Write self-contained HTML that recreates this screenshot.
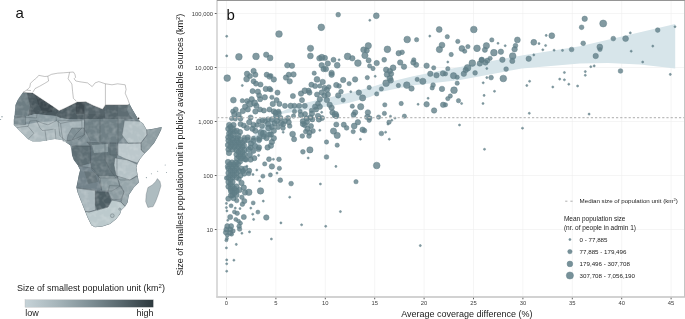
<!DOCTYPE html>
<html><head><meta charset="utf-8"><style>
html,body{margin:0;padding:0;background:#fff;}
body{width:685px;height:319px;overflow:hidden;}
svg{display:block;font-family:"Liberation Sans",sans-serif;will-change:transform;filter:blur(0.25px);}
.tk{font-size:5.85px;fill:#3c3c3c;}
.lg{font-size:6.2px;fill:#222;}
.lg2{font-size:6.52px;fill:#222;}
.sup{font-size:4px;}
.ttl{font-size:9px;fill:#1a1a1a;}
.pl{font-size:15px;fill:#111;}
</style></head><body>
<svg width="685" height="319" viewBox="0 0 685 319">
<defs><clipPath id="ssaclip"><polygon points="23.0,92.3 32.8,93.1 39.5,97.6 46.3,102.1 53.1,106.6 59.1,110.8 65.1,108.1 71.1,105.1 77.1,102.1 80.0,102.1 85.6,101.7 93.2,105.5 102.6,109.2 105.4,104.9 128.0,104.9 129.3,103.6 131.8,108.3 134.6,113.0 137.4,117.7 140.2,121.5 142.9,123.2 146.7,129.7 153.3,128.8 161.7,126.9 161.2,129.7 158.0,136.3 154.2,142.9 149.5,148.6 144.8,153.3 140.1,158.9 137.3,164.5 136.4,167.5 137.6,175.0 138.9,182.6 133.9,187.6 128.9,195.1 127.6,202.6 125.1,206.4 121.3,210.2 120.1,213.9 116.3,218.9 110.1,224.0 102.5,226.5 95.0,227.2 91.3,225.2 90.1,222.7 87.6,217.7 85.1,211.4 82.6,205.2 80.1,198.9 77.6,192.6 76.3,187.6 77.6,181.3 78.8,175.1 80.1,170.1 77.6,165.0 73.8,160.0 72.0,155.0 71.5,150.0 70.2,145.2 66.5,142.7 62.7,140.2 55.2,138.9 47.6,140.2 40.1,141.4 32.6,141.4 27.6,138.9 23.8,135.1 20.1,131.4 16.3,127.6 13.8,125.1 13.8,120.1 14.5,115.0 15.0,110.0 15.5,105.0 17.6,100.0 20.1,96.3"/></clipPath>
<filter id="mottle" x="0" y="0" width="1" height="1"><feTurbulence type="fractalNoise" baseFrequency="0.18" numOctaves="2" seed="7"/><feColorMatrix type="matrix" values="0 0 0 0 1  0 0 0 0 1  0 0 0 0 1  2.2 0 0 0 -0.95"/></filter>
<linearGradient id="cb" x1="0" x2="1" y1="0" y2="0"><stop offset="0" stop-color="#c6d3d8"/><stop offset="0.25" stop-color="#a6b5ba"/><stop offset="0.5" stop-color="#7f9096"/><stop offset="0.75" stop-color="#58676d"/><stop offset="1" stop-color="#2e3a3f"/></linearGradient>
</defs>
<text x="15.5" y="17.6" class="pl">a</text>
<polygon points="23.0,92.3 32.8,93.1 39.5,97.6 46.3,102.1 53.1,106.6 59.1,110.8 65.1,108.1 71.1,105.1 77.1,102.1 80.0,102.1 85.6,101.7 93.2,105.5 102.6,109.2 105.4,104.9 128.0,104.9 129.3,103.6 131.8,108.3 134.6,113.0 137.4,117.7 140.2,121.5 142.9,123.2 146.7,129.7 153.3,128.8 161.7,126.9 161.2,129.7 158.0,136.3 154.2,142.9 149.5,148.6 144.8,153.3 140.1,158.9 137.3,164.5 136.4,167.5 137.6,175.0 138.9,182.6 133.9,187.6 128.9,195.1 127.6,202.6 125.1,206.4 121.3,210.2 120.1,213.9 116.3,218.9 110.1,224.0 102.5,226.5 95.0,227.2 91.3,225.2 90.1,222.7 87.6,217.7 85.1,211.4 82.6,205.2 80.1,198.9 77.6,192.6 76.3,187.6 77.6,181.3 78.8,175.1 80.1,170.1 77.6,165.0 73.8,160.0 72.0,155.0 71.5,150.0 70.2,145.2 66.5,142.7 62.7,140.2 55.2,138.9 47.6,140.2 40.1,141.4 32.6,141.4 27.6,138.9 23.8,135.1 20.1,131.4 16.3,127.6 13.8,125.1 13.8,120.1 14.5,115.0 15.0,110.0 15.5,105.0 17.6,100.0 20.1,96.3" fill="#83939a"/><g clip-path="url(#ssaclip)"><polygon points="22.6,93.0 27.0,93.0 30.0,105.0 28.0,116.0 15.0,116.0 15.0,105.0 17.6,100.0 20.1,96.3" fill="#6d7d83"/><polygon points="27.0,93.0 32.8,93.1 39.5,97.6 46.3,102.1 53.1,106.6 59.1,110.8 56.0,116.0 45.0,115.0 35.0,114.0 28.0,116.0 30.0,105.0" fill="#4a585e"/><polygon points="36.0,96.0 46.3,102.1 53.1,106.6 52.0,112.0 43.0,113.0 38.0,104.0" fill="#3d494f"/><polygon points="59.1,110.8 65.1,108.1 71.1,105.1 77.1,102.1 80.0,102.1 85.6,101.7 93.2,105.5 102.6,109.2 105.4,104.9 105.4,118.8 100.0,119.0 85.0,119.5 70.0,119.5 60.0,118.0 56.0,116.0" fill="#4f5d63"/><polygon points="75.9,102.8 84.5,102.0 84.5,114.0 76.0,114.0" fill="#3e4a50"/><polygon points="84.5,102.0 85.6,101.7 93.2,105.5 102.6,109.2 105.4,104.9 105.4,114.0 84.5,114.0" fill="#56646a"/><polygon points="105.4,104.9 128.0,104.9 129.3,103.6 131.8,108.3 134.6,113.0 137.0,117.0 132.0,119.0 124.0,120.0 105.4,119.0" fill="#5e6d73"/><polygon points="105.4,104.9 118.0,104.9 118.0,119.0 105.4,119.0" fill="#56656b"/><polygon points="129.3,103.6 131.8,108.3 134.6,113.0 137.4,117.7 140.2,121.5 136.0,121.0 130.0,116.0 127.0,110.0" fill="#738389"/><polygon points="14.5,115.0 28.0,116.0 35.0,114.0 45.0,115.0 56.0,116.0 60.0,118.0 70.0,119.5 85.0,119.5 100.0,119.0 105.4,119.0 105.4,122.0 60.0,123.0 14.0,122.0" fill="#8b9ba1"/><polygon points="13.8,116.0 25.5,116.0 25.5,124.5 13.8,125.0" fill="#7d8d93"/><polygon points="14.0,124.0 25.0,124.5 40.0,122.0 58.0,121.0 72.0,124.0 75.0,130.0 72.0,140.0 66.5,142.7 62.7,140.2 55.2,138.9 47.6,140.2 40.1,141.4 32.6,141.4 27.6,138.9 23.8,135.1 20.1,131.4 16.3,127.6 13.8,125.1" fill="#adbabe"/><polygon points="58.0,121.0 84.5,120.0 84.0,135.0 72.0,140.0 66.0,141.0 60.0,136.0" fill="#a5b3b8"/><polygon points="84.5,119.0 124.4,119.0 124.0,137.0 118.0,143.0 100.0,142.0 86.0,140.0" fill="#708086"/><polygon points="124.4,120.7 136.0,121.0 140.2,121.5 142.9,123.2 146.7,129.7 147.0,135.0 141.0,143.0 128.0,143.2 122.0,135.0" fill="#b3c0c4"/><polygon points="146.7,129.7 153.3,128.8 161.7,126.9 161.2,129.7 158.0,136.3 154.2,142.9 149.5,148.6 144.8,153.3 141.3,150.0 141.0,143.0 147.0,135.0" fill="#8e9da2"/><polygon points="117.0,143.2 128.0,143.2 141.0,143.0 141.3,150.0 144.8,153.3 140.1,158.9 137.3,163.0 128.0,160.0 117.0,155.0" fill="#bcc8cc"/><polygon points="110.0,143.0 118.0,143.0 118.0,155.0 110.0,155.0" fill="#7d8d93"/><polygon points="68.0,135.0 72.0,128.0 84.0,128.0 90.0,140.0 90.0,146.0 79.0,146.0 72.0,145.0 70.2,145.2 66.5,142.7" fill="#7f8f95"/><polygon points="72.0,146.0 90.6,146.0 90.6,163.0 80.0,166.0 77.6,165.0 73.8,160.0 72.0,155.0 71.5,150.0" fill="#5e6e74"/><polygon points="86.8,142.0 116.0,143.0 117.0,160.0 116.9,178.0 100.0,178.0 92.0,170.0 90.6,163.0 90.6,146.0" fill="#64747a"/><polygon points="92.0,145.0 108.0,144.0 108.0,152.0 94.0,153.0" fill="#8a9a9f"/><polygon points="115.0,158.0 128.0,160.0 137.3,164.5 136.4,167.5 137.6,175.0 130.0,180.0 120.0,180.0 116.0,175.0 114.0,165.0" fill="#b6c3c7"/><polygon points="78.0,166.0 92.0,168.0 100.0,178.0 101.8,190.0 97.0,191.0 77.0,188.0 76.3,187.6 77.6,181.3 78.8,175.1 80.1,170.1" fill="#72828a"/><polygon points="84.0,171.0 95.0,172.0 98.0,182.0 88.0,184.0" fill="#65747a"/><polygon points="98.0,176.0 117.0,176.0 120.0,186.0 112.0,191.0 101.8,191.0" fill="#8a9a9f"/><polygon points="117.0,176.0 130.0,180.0 137.6,176.0 138.9,182.6 133.9,187.6 128.9,195.1 127.6,202.6 125.1,206.4 121.0,202.0 124.0,192.0 120.0,186.0" fill="#98a7ac"/><polygon points="109.5,185.6 121.0,186.0 124.0,192.0 121.0,199.0 112.0,200.0 108.0,192.0" fill="#8c9ba0"/><polygon points="77.0,188.0 95.4,190.0 95.4,210.0 89.0,212.0 85.1,211.4 82.6,205.2 80.1,198.9 77.6,192.6" fill="#aab8bd"/><polygon points="95.4,191.3 108.0,192.0 111.4,200.0 108.0,207.0 97.0,210.1 95.4,205.0" fill="#4e5e64"/><polygon points="89.0,212.0 97.0,210.1 108.0,207.0 112.0,200.0 121.0,202.0 125.1,206.4 121.3,210.2 120.1,213.9 116.3,218.9 110.1,224.0 102.5,226.5 95.0,227.2 91.3,225.2 90.1,222.7 87.6,217.7 85.1,211.4" fill="#bccacd"/><polygon points="13.8,116.0 25.5,116.0 25.5,124.5 13.8,125.0" fill="none" stroke="#4a565c" stroke-width="0.35"/><polygon points="58.0,121.0 84.5,120.0 84.0,135.0 72.0,140.0 66.0,141.0 60.0,136.0" fill="none" stroke="#4a565c" stroke-width="0.35"/><polygon points="124.4,120.7 136.0,121.0 140.2,121.5 142.9,123.2 146.7,129.7 147.0,135.0 141.0,143.0 128.0,143.2 122.0,135.0" fill="none" stroke="#4a565c" stroke-width="0.35"/><polygon points="146.7,129.7 153.3,128.8 161.7,126.9 161.2,129.7 158.0,136.3 154.2,142.9 149.5,148.6 144.8,153.3 141.3,150.0 141.0,143.0 147.0,135.0" fill="none" stroke="#4a565c" stroke-width="0.35"/><polygon points="117.0,143.2 128.0,143.2 141.0,143.0 141.3,150.0 144.8,153.3 140.1,158.9 137.3,163.0 128.0,160.0 117.0,155.0" fill="none" stroke="#4a565c" stroke-width="0.35"/><polygon points="110.0,143.0 118.0,143.0 118.0,155.0 110.0,155.0" fill="none" stroke="#4a565c" stroke-width="0.35"/><polygon points="68.0,135.0 72.0,128.0 84.0,128.0 90.0,140.0 90.0,146.0 79.0,146.0 72.0,145.0 70.2,145.2 66.5,142.7" fill="none" stroke="#4a565c" stroke-width="0.35"/><polygon points="72.0,146.0 90.6,146.0 90.6,163.0 80.0,166.0 77.6,165.0 73.8,160.0 72.0,155.0 71.5,150.0" fill="none" stroke="#4a565c" stroke-width="0.35"/><polygon points="86.8,142.0 116.0,143.0 117.0,160.0 116.9,178.0 100.0,178.0 92.0,170.0 90.6,163.0 90.6,146.0" fill="none" stroke="#4a565c" stroke-width="0.35"/><polygon points="115.0,158.0 128.0,160.0 137.3,164.5 136.4,167.5 137.6,175.0 130.0,180.0 120.0,180.0 116.0,175.0 114.0,165.0" fill="none" stroke="#4a565c" stroke-width="0.35"/><polygon points="78.0,166.0 92.0,168.0 100.0,178.0 101.8,190.0 97.0,191.0 77.0,188.0 76.3,187.6 77.6,181.3 78.8,175.1 80.1,170.1" fill="none" stroke="#4a565c" stroke-width="0.35"/><polygon points="98.0,176.0 117.0,176.0 120.0,186.0 112.0,191.0 101.8,191.0" fill="none" stroke="#4a565c" stroke-width="0.35"/><polygon points="117.0,176.0 130.0,180.0 137.6,176.0 138.9,182.6 133.9,187.6 128.9,195.1 127.6,202.6 125.1,206.4 121.0,202.0 124.0,192.0 120.0,186.0" fill="none" stroke="#4a565c" stroke-width="0.35"/><polygon points="109.5,185.6 121.0,186.0 124.0,192.0 121.0,199.0 112.0,200.0 108.0,192.0" fill="none" stroke="#4a565c" stroke-width="0.35"/><polygon points="77.0,188.0 95.4,190.0 95.4,210.0 89.0,212.0 85.1,211.4 82.6,205.2 80.1,198.9 77.6,192.6" fill="none" stroke="#4a565c" stroke-width="0.35"/><polygon points="95.4,191.3 108.0,192.0 111.4,200.0 108.0,207.0 97.0,210.1 95.4,205.0" fill="none" stroke="#4a565c" stroke-width="0.35"/><polygon points="89.0,212.0 97.0,210.1 108.0,207.0 112.0,200.0 121.0,202.0 125.1,206.4 121.3,210.2 120.1,213.9 116.3,218.9 110.1,224.0 102.5,226.5 95.0,227.2 91.3,225.2 90.1,222.7 87.6,217.7 85.1,211.4" fill="none" stroke="#4a565c" stroke-width="0.35"/><rect x="0" y="60" width="170" height="175" filter="url(#mottle)" opacity="0.22"/></g><polyline points="15.0,117.8 22.0,117.0 30.0,117.5 36.6,118.0" fill="none" stroke="#4a565c" stroke-width="0.35"/><polyline points="16.9,127.7 22.0,126.8 28.0,126.3 33.9,133.4 28.2,139.0" fill="none" stroke="#4a565c" stroke-width="0.35"/><polyline points="28.0,126.3 30.0,121.0 36.6,120.7" fill="none" stroke="#4a565c" stroke-width="0.35"/><polyline points="36.6,120.7 42.0,123.0 48.0,124.9 56.4,120.7" fill="none" stroke="#4a565c" stroke-width="0.35"/><polyline points="36.6,120.7 40.0,128.0 42.3,130.5 48.0,130.0 53.6,129.1" fill="none" stroke="#4a565c" stroke-width="0.35"/><polyline points="45.0,130.5 46.5,141.0" fill="none" stroke="#4a565c" stroke-width="0.35"/><polyline points="55.0,129.0 56.0,139.5" fill="none" stroke="#4a565c" stroke-width="0.35"/><polyline points="60.6,123.4 61.5,132.0 63.4,141.8" fill="none" stroke="#4a565c" stroke-width="0.35"/><polyline points="56.4,120.7 60.6,123.4 70.0,121.5 81.8,120.7" fill="none" stroke="#4a565c" stroke-width="0.35"/><polyline points="81.8,120.7 82.0,128.0 76.0,134.0 72.0,140.0" fill="none" stroke="#4a565c" stroke-width="0.35"/><polyline points="84.5,119.0 84.5,135.0 78.0,140.0" fill="none" stroke="#4a565c" stroke-width="0.35"/><polyline points="100.0,119.0 100.0,142.0" fill="none" stroke="#4a565c" stroke-width="0.35"/><polyline points="118.0,119.0 118.0,143.0" fill="none" stroke="#4a565c" stroke-width="0.35"/><polyline points="90.0,146.0 90.6,163.0" fill="none" stroke="#4a565c" stroke-width="0.35"/><polyline points="105.0,143.0 105.0,160.0 110.0,170.0 116.0,178.0" fill="none" stroke="#4a565c" stroke-width="0.35"/><polyline points="59.1,110.8 56.0,116.0 56.4,120.7" fill="none" stroke="#4a565c" stroke-width="0.35"/><polyline points="84.5,102.0 84.5,119.0" fill="none" stroke="#4a565c" stroke-width="0.35"/><polyline points="36.6,118.0 37.0,114.0 30.0,105.0 27.0,93.0" fill="none" stroke="#4a565c" stroke-width="0.35"/><polygon points="157.4,178.6 160.0,181.6 160.9,185.9 158.3,194.5 155.7,201.4 153.1,206.6 147.9,207.4 145.7,201.4 146.2,194.5 147.9,187.6 152.2,185.0 155.7,181.6" fill="#aebcc0" stroke="#4a565c" stroke-width="0.3"/><circle cx="138.6" cy="118.2" r="0.8" fill="#222"/><circle cx="112.3" cy="215.7" r="1.9" fill="#b3c1c5" stroke="#4a565c" stroke-width="0.35"/><circle cx="119.8" cy="209.1" r="1.1" fill="#b3c1c5" stroke="#4a565c" stroke-width="0.35"/><circle cx="2" cy="116.8" r="0.7" fill="#8a9aa0"/><circle cx="0.6" cy="119.5" r="0.6" fill="#8a9aa0"/><circle cx="146.4" cy="177.6" r="0.6" fill="#8a9aa0"/><circle cx="151.4" cy="173.8" r="0.5" fill="#8a9aa0"/><circle cx="157.7" cy="171.3" r="0.5" fill="#8a9aa0"/><circle cx="165.2" cy="165" r="0.5" fill="#8a9aa0"/><circle cx="166.5" cy="172.5" r="0.5" fill="#8a9aa0"/><polygon points="23.0,92.3 26.8,90.1 29.8,87.1 30.5,83.3 33.5,80.3 36.5,78.0 38.8,75.3 41.1,75.8 44.8,76.5 47.8,76.2 51.6,74.3 57.6,73.2 63.6,72.8 69.6,72.3 73.4,72.0 74.9,74.3 75.6,77.3 74.1,78.8 75.9,81.0 80.0,81.8 87.5,82.9 92.2,86.6 95.1,82.9 98.8,81.6 105.4,83.8 112.0,84.8 117.6,83.8 125.2,84.8 126.1,89.5 125.2,93.2 128.0,99.8 129.3,103.6 128.0,104.9 105.4,104.9 102.6,109.2 93.2,105.5 85.6,101.7 80.0,102.1 77.1,102.1 71.1,105.1 65.1,108.1 59.1,110.8 53.1,106.6 46.3,102.1 39.5,97.6 32.8,93.1" fill="#fff" stroke="#555" stroke-width="0.35"/><polyline points="47.8,76.2 48.6,81.0 44.8,83.3 39.5,86.3 35.0,88.6 32.8,92.3" fill="none" stroke="#555" stroke-width="0.35"/><polyline points="69.6,72.3 68.1,78.8 71.9,84.0 72.6,91.6 73.4,98.3 76.4,101.3" fill="none" stroke="#555" stroke-width="0.35"/><polyline points="105.4,83.8 105.4,104.9" fill="none" stroke="#555" stroke-width="0.35"/><polyline points="26.8,90.1 31.0,90.6" fill="none" stroke="#555" stroke-width="0.35"/>
<text x="17" y="291.4" class="ttl">Size of smallest population unit (km<tspan font-size="6" dy="-3.2">2</tspan><tspan dy="3.2">)</tspan></text>
<rect x="25" y="299.8" width="128.3" height="7.4" fill="url(#cb)" stroke="#aaa" stroke-width="0.3"/>
<text x="25.3" y="316.3" class="ttl">low</text>
<text x="153.4" y="316.3" class="ttl" text-anchor="end">high</text>
<line x1="226.5" y1="0" x2="226.5" y2="296" stroke="#efefef" stroke-width="0.6"/><line x1="275.9" y1="0" x2="275.9" y2="296" stroke="#efefef" stroke-width="0.6"/><line x1="325.3" y1="0" x2="325.3" y2="296" stroke="#efefef" stroke-width="0.6"/><line x1="374.7" y1="0" x2="374.7" y2="296" stroke="#efefef" stroke-width="0.6"/><line x1="424.1" y1="0" x2="424.1" y2="296" stroke="#efefef" stroke-width="0.6"/><line x1="473.5" y1="0" x2="473.5" y2="296" stroke="#efefef" stroke-width="0.6"/><line x1="522.9" y1="0" x2="522.9" y2="296" stroke="#efefef" stroke-width="0.6"/><line x1="572.3" y1="0" x2="572.3" y2="296" stroke="#efefef" stroke-width="0.6"/><line x1="621.7" y1="0" x2="621.7" y2="296" stroke="#efefef" stroke-width="0.6"/><line x1="671.1" y1="0" x2="671.1" y2="296" stroke="#efefef" stroke-width="0.6"/><line x1="217" y1="229.5" x2="684" y2="229.5" stroke="#efefef" stroke-width="0.6"/><line x1="217" y1="175.5" x2="684" y2="175.5" stroke="#efefef" stroke-width="0.6"/><line x1="217" y1="121.5" x2="684" y2="121.5" stroke="#efefef" stroke-width="0.6"/><line x1="217" y1="67.5" x2="684" y2="67.5" stroke="#efefef" stroke-width="0.6"/><line x1="217" y1="13.5" x2="684" y2="13.5" stroke="#efefef" stroke-width="0.6"/><polygon points="245.0,150.0 252.0,138.0 260.0,128.0 268.0,120.0 276.0,114.0 292.0,107.0 309.0,102.0 340.0,95.0 370.0,87.5 381.0,84.0 412.0,76.5 442.6,70.2 460.0,67.0 521.7,55.4 580.0,46.2 624.0,36.0 675.2,24.0 675.2,68.6 640.0,64.5 608.0,63.0 580.0,63.6 521.7,68.5 460.0,80.0 442.6,82.0 412.0,85.5 381.3,91.7 370.0,97.0 348.4,103.0 317.0,108.2 282.5,113.7 269.0,133.0 258.0,146.0 250.0,160.0" fill="#d7e5ea"/>
<g fill="#5f7e87" fill-opacity="0.78" stroke="#5f7e87" stroke-opacity="0.78" stroke-width="0.6">
<circle cx="584.7" cy="18.8" r="2.73"/><circle cx="581.6" cy="27.3" r="2.37"/><circle cx="603.2" cy="23.5" r="3.51"/><circle cx="571.6" cy="49.5" r="2.37"/><circle cx="583.2" cy="43.3" r="2.37"/><circle cx="599.8" cy="47.0" r="2.94"/><circle cx="600.0" cy="49.5" r="2.12"/><circle cx="595.7" cy="56.0" r="2.73"/><circle cx="613.3" cy="38.6" r="2.37"/><circle cx="625.6" cy="38.6" r="2.94"/><circle cx="630.3" cy="32.9" r="1.05"/><circle cx="631.2" cy="51.2" r="1.05"/><circle cx="652.8" cy="46.1" r="1.05"/><circle cx="657.7" cy="30.1" r="2.37"/><circle cx="675.0" cy="26.7" r="1.05"/><circle cx="447.3" cy="36.7" r="2.17"/><circle cx="457.8" cy="41.4" r="2.17"/><circle cx="451.2" cy="54.5" r="2.17"/><circle cx="461.9" cy="48.5" r="2.94"/><circle cx="464.7" cy="51.2" r="2.17"/><circle cx="467.9" cy="46.6" r="2.17"/><circle cx="473.8" cy="29.5" r="3.35"/><circle cx="477.0" cy="48.3" r="3.35"/><circle cx="486.4" cy="45.7" r="3.15"/><circle cx="484.9" cy="49.8" r="2.58"/><circle cx="491.8" cy="39.9" r="2.17"/><circle cx="493.9" cy="52.7" r="3.35"/><circle cx="498.0" cy="43.3" r="1.05"/><circle cx="500.9" cy="51.7" r="2.73"/><circle cx="505.2" cy="45.7" r="1.05"/><circle cx="517.4" cy="39.9" r="2.94"/><circle cx="515.5" cy="45.7" r="2.37"/><circle cx="514.6" cy="49.3" r="2.73"/><circle cx="512.7" cy="56.0" r="3.35"/><circle cx="481.7" cy="59.8" r="2.73"/><circle cx="490.1" cy="58.3" r="2.17"/><circle cx="502.4" cy="59.8" r="2.73"/><circle cx="528.7" cy="58.7" r="2.73"/><circle cx="533.8" cy="42.3" r="2.94"/><circle cx="539.0" cy="43.6" r="1.05"/><circle cx="546.2" cy="35.4" r="1.05"/><circle cx="551.8" cy="35.7" r="2.94"/><circle cx="545.6" cy="45.5" r="1.05"/><circle cx="542.8" cy="49.8" r="1.05"/><circle cx="554.1" cy="50.2" r="1.05"/><circle cx="562.5" cy="50.4" r="1.05"/><circle cx="533.8" cy="54.9" r="1.05"/><circle cx="338.2" cy="14.7" r="2.37"/><circle cx="369.8" cy="20.3" r="1.05"/><circle cx="376.3" cy="15.8" r="2.94"/><circle cx="368.3" cy="45.7" r="3.15"/><circle cx="363.6" cy="49.8" r="2.94"/><circle cx="366.8" cy="50.4" r="2.58"/><circle cx="364.9" cy="55.5" r="3.15"/><circle cx="347.6" cy="56.4" r="3.35"/><circle cx="352.3" cy="58.3" r="2.73"/><circle cx="333.5" cy="59.8" r="2.53"/><circle cx="387.4" cy="49.3" r="3.35"/><circle cx="398.7" cy="53.2" r="2.73"/><circle cx="402.1" cy="52.3" r="2.37"/><circle cx="407.2" cy="39.5" r="3.35"/><circle cx="416.6" cy="39.7" r="2.17"/><circle cx="429.8" cy="36.1" r="1.05"/><circle cx="439.2" cy="29.5" r="2.94"/><circle cx="442.0" cy="45.1" r="2.94"/><circle cx="439.4" cy="49.5" r="3.15"/><circle cx="384.2" cy="59.8" r="2.43"/><circle cx="413.8" cy="59.8" r="2.17"/><circle cx="339.1" cy="59.8" r="1.05"/><circle cx="226.7" cy="36.3" r="1.05"/><circle cx="226.7" cy="55.9" r="1.05"/><circle cx="238.9" cy="56.8" r="3.35"/><circle cx="256.0" cy="56.4" r="3.35"/><circle cx="266.2" cy="54.7" r="2.73"/><circle cx="270.1" cy="57.9" r="2.94"/><circle cx="279.0" cy="34.0" r="3.35"/><circle cx="321.3" cy="27.3" r="3.35"/><circle cx="310.5" cy="48.3" r="3.15"/><circle cx="310.4" cy="55.9" r="2.94"/><circle cx="319.4" cy="58.3" r="2.73"/><circle cx="321.8" cy="57.4" r="3.15"/><circle cx="325.0" cy="57.9" r="2.58"/><circle cx="642.7" cy="62.0" r="1.05"/><circle cx="590.8" cy="66.7" r="1.05"/><circle cx="594.2" cy="65.9" r="1.05"/><circle cx="585.3" cy="71.6" r="1.05"/><circle cx="585.3" cy="75.3" r="1.05"/><circle cx="620.5" cy="71.0" r="2.37"/><circle cx="670.3" cy="74.4" r="1.05"/><circle cx="568.8" cy="84.2" r="1.05"/><circle cx="577.6" cy="86.0" r="1.05"/><circle cx="447.8" cy="62.0" r="1.05"/><circle cx="447.8" cy="68.7" r="2.17"/><circle cx="445.5" cy="73.8" r="2.17"/><circle cx="467.6" cy="67.8" r="3.35"/><circle cx="465.7" cy="70.0" r="2.73"/><circle cx="472.3" cy="63.1" r="3.35"/><circle cx="479.8" cy="63.5" r="2.73"/><circle cx="481.7" cy="60.1" r="2.58"/><circle cx="485.4" cy="62.5" r="2.73"/><circle cx="487.3" cy="60.6" r="2.58"/><circle cx="512.3" cy="61.0" r="2.58"/><circle cx="463.8" cy="73.8" r="2.73"/><circle cx="453.5" cy="75.7" r="3.15"/><circle cx="457.2" cy="77.2" r="2.17"/><circle cx="475.1" cy="72.9" r="2.37"/><circle cx="486.8" cy="68.5" r="1.05"/><circle cx="506.1" cy="69.1" r="2.37"/><circle cx="486.8" cy="77.6" r="1.05"/><circle cx="491.1" cy="77.6" r="2.37"/><circle cx="503.3" cy="78.5" r="3.35"/><circle cx="457.2" cy="83.2" r="2.17"/><circle cx="454.0" cy="90.2" r="3.35"/><circle cx="483.2" cy="82.8" r="1.05"/><circle cx="494.5" cy="91.3" r="1.05"/><circle cx="450.3" cy="96.0" r="2.17"/><circle cx="447.8" cy="98.6" r="2.17"/><circle cx="445.5" cy="104.8" r="2.17"/><circle cx="458.5" cy="100.7" r="2.17"/><circle cx="461.6" cy="103.5" r="1.05"/><circle cx="484.1" cy="95.4" r="1.05"/><circle cx="483.0" cy="103.5" r="1.05"/><circle cx="529.6" cy="81.3" r="1.05"/><circle cx="526.8" cy="85.5" r="1.05"/><circle cx="529.3" cy="113.3" r="1.05"/><circle cx="559.7" cy="79.1" r="1.05"/><circle cx="552.8" cy="87.0" r="1.05"/><circle cx="564.4" cy="72.5" r="1.05"/><circle cx="564.4" cy="79.8" r="1.05"/><circle cx="327.8" cy="63.5" r="2.73"/><circle cx="325.9" cy="69.1" r="2.73"/><circle cx="337.2" cy="65.3" r="2.94"/><circle cx="357.9" cy="63.1" r="3.35"/><circle cx="368.6" cy="60.3" r="2.58"/><circle cx="369.6" cy="65.9" r="2.17"/><circle cx="373.0" cy="68.5" r="2.17"/><circle cx="376.7" cy="63.1" r="2.73"/><circle cx="386.1" cy="69.7" r="2.73"/><circle cx="389.9" cy="71.0" r="2.73"/><circle cx="393.1" cy="67.8" r="2.94"/><circle cx="387.1" cy="74.4" r="2.94"/><circle cx="391.2" cy="73.8" r="2.58"/><circle cx="389.9" cy="78.5" r="2.94"/><circle cx="386.1" cy="83.2" r="3.35"/><circle cx="390.8" cy="80.4" r="2.73"/><circle cx="400.2" cy="62.5" r="2.73"/><circle cx="404.0" cy="66.7" r="2.73"/><circle cx="413.4" cy="62.5" r="2.73"/><circle cx="416.2" cy="64.8" r="2.58"/><circle cx="426.6" cy="65.7" r="2.73"/><circle cx="433.7" cy="67.8" r="2.17"/><circle cx="430.3" cy="73.8" r="2.73"/><circle cx="436.5" cy="75.3" r="2.73"/><circle cx="442.9" cy="73.4" r="2.73"/><circle cx="417.2" cy="79.4" r="2.17"/><circle cx="422.8" cy="81.3" r="3.15"/><circle cx="406.8" cy="85.1" r="3.35"/><circle cx="411.5" cy="88.5" r="2.73"/><circle cx="398.4" cy="85.5" r="2.17"/><circle cx="433.1" cy="85.1" r="2.37"/><circle cx="432.2" cy="87.9" r="2.17"/><circle cx="442.0" cy="88.9" r="2.73"/><circle cx="428.1" cy="98.3" r="1.05"/><circle cx="426.6" cy="104.3" r="2.73"/><circle cx="418.1" cy="104.3" r="1.05"/><circle cx="434.1" cy="110.5" r="2.73"/><circle cx="443.1" cy="104.8" r="2.73"/><circle cx="401.2" cy="103.5" r="2.17"/><circle cx="384.8" cy="104.8" r="2.17"/><circle cx="367.9" cy="112.4" r="2.73"/><circle cx="367.3" cy="77.6" r="2.17"/><circle cx="375.2" cy="76.3" r="1.05"/><circle cx="369.2" cy="87.5" r="2.17"/><circle cx="381.4" cy="88.9" r="2.17"/><circle cx="376.7" cy="93.9" r="2.17"/><circle cx="355.1" cy="79.4" r="2.73"/><circle cx="343.2" cy="80.0" r="2.73"/><circle cx="349.1" cy="83.6" r="2.17"/><circle cx="331.6" cy="72.9" r="2.73"/><circle cx="331.6" cy="74.7" r="2.73"/><circle cx="336.3" cy="85.1" r="2.73"/><circle cx="339.1" cy="86.0" r="2.37"/><circle cx="328.8" cy="87.0" r="2.37"/><circle cx="326.9" cy="89.8" r="2.73"/><circle cx="341.0" cy="91.7" r="2.37"/><circle cx="338.2" cy="95.4" r="2.73"/><circle cx="350.8" cy="91.7" r="1.05"/><circle cx="358.9" cy="92.6" r="2.73"/><circle cx="362.6" cy="97.9" r="3.15"/><circle cx="343.2" cy="100.1" r="2.17"/><circle cx="327.8" cy="94.5" r="2.73"/><circle cx="326.9" cy="100.1" r="2.73"/><circle cx="329.7" cy="104.8" r="2.73"/><circle cx="331.6" cy="107.7" r="2.73"/><circle cx="332.5" cy="112.4" r="2.73"/><circle cx="352.3" cy="106.2" r="2.17"/><circle cx="360.7" cy="106.7" r="3.15"/><circle cx="355.1" cy="112.4" r="2.73"/><circle cx="287.3" cy="65.3" r="2.73"/><circle cx="292.0" cy="65.7" r="2.73"/><circle cx="321.7" cy="65.3" r="2.73"/><circle cx="323.6" cy="69.1" r="2.73"/><circle cx="314.2" cy="73.2" r="2.17"/><circle cx="293.5" cy="74.4" r="2.73"/><circle cx="288.8" cy="74.7" r="2.58"/><circle cx="286.0" cy="77.6" r="2.73"/><circle cx="289.7" cy="81.3" r="2.73"/><circle cx="273.8" cy="79.4" r="2.73"/><circle cx="270.9" cy="75.7" r="2.17"/><circle cx="317.0" cy="79.4" r="2.94"/><circle cx="322.7" cy="81.9" r="2.73"/><circle cx="311.4" cy="84.7" r="2.58"/><circle cx="315.1" cy="86.0" r="2.58"/><circle cx="319.8" cy="86.0" r="2.17"/><circle cx="324.5" cy="87.9" r="2.58"/><circle cx="304.8" cy="90.7" r="2.94"/><circle cx="308.6" cy="90.7" r="2.58"/><circle cx="309.5" cy="92.6" r="2.58"/><circle cx="301.0" cy="93.6" r="2.73"/><circle cx="317.0" cy="94.5" r="2.58"/><circle cx="321.7" cy="92.6" r="2.73"/><circle cx="324.5" cy="95.4" r="2.73"/><circle cx="319.8" cy="99.2" r="2.73"/><circle cx="270.9" cy="89.8" r="2.17"/><circle cx="277.5" cy="92.6" r="2.58"/><circle cx="292.9" cy="96.0" r="2.58"/><circle cx="302.0" cy="100.1" r="2.58"/><circle cx="271.9" cy="97.3" r="2.17"/><circle cx="276.6" cy="100.1" r="2.58"/><circle cx="279.4" cy="103.9" r="2.58"/><circle cx="272.8" cy="103.9" r="2.73"/><circle cx="285.0" cy="105.8" r="2.58"/><circle cx="290.7" cy="105.8" r="2.73"/><circle cx="294.5" cy="105.8" r="2.58"/><circle cx="299.2" cy="105.8" r="2.58"/><circle cx="304.8" cy="105.8" r="2.58"/><circle cx="315.1" cy="106.7" r="2.73"/><circle cx="319.8" cy="106.7" r="2.73"/><circle cx="318.0" cy="103.5" r="2.58"/><circle cx="311.4" cy="110.5" r="2.17"/><circle cx="316.1" cy="109.5" r="2.58"/><circle cx="300.1" cy="111.4" r="2.17"/><circle cx="294.5" cy="111.4" r="2.17"/><circle cx="273.8" cy="111.4" r="2.73"/><circle cx="278.5" cy="111.4" r="2.37"/><circle cx="227.2" cy="78.1" r="3.35"/><circle cx="247.0" cy="73.8" r="2.73"/><circle cx="253.6" cy="71.0" r="2.73"/><circle cx="255.4" cy="74.7" r="2.58"/><circle cx="246.6" cy="79.1" r="2.94"/><circle cx="250.0" cy="76.0" r="2.58"/><circle cx="242.3" cy="85.5" r="1.05"/><circle cx="253.6" cy="81.3" r="2.58"/><circle cx="256.0" cy="83.6" r="2.58"/><circle cx="260.5" cy="84.5" r="2.58"/><circle cx="266.7" cy="74.7" r="2.58"/><circle cx="269.5" cy="76.6" r="2.73"/><circle cx="265.8" cy="88.9" r="2.73"/><circle cx="269.5" cy="88.9" r="2.58"/><circle cx="252.6" cy="91.1" r="2.58"/><circle cx="257.9" cy="91.7" r="2.73"/><circle cx="259.2" cy="95.4" r="2.58"/><circle cx="264.8" cy="97.3" r="2.73"/><circle cx="233.4" cy="100.1" r="2.94"/><circle cx="242.3" cy="100.7" r="2.17"/><circle cx="247.0" cy="101.1" r="2.58"/><circle cx="251.7" cy="99.2" r="2.73"/><circle cx="249.8" cy="103.9" r="3.35"/><circle cx="254.5" cy="103.0" r="3.15"/><circle cx="256.4" cy="105.8" r="2.73"/><circle cx="260.1" cy="99.2" r="2.58"/><circle cx="245.1" cy="106.7" r="2.73"/><circle cx="247.9" cy="109.5" r="2.58"/><circle cx="242.8" cy="111.0" r="2.73"/><circle cx="235.7" cy="109.5" r="2.58"/><circle cx="232.9" cy="111.4" r="2.37"/><circle cx="260.1" cy="109.5" r="2.58"/><circle cx="263.9" cy="110.5" r="2.58"/><circle cx="255.4" cy="111.4" r="2.73"/><circle cx="269.5" cy="109.5" r="2.58"/><circle cx="589.1" cy="114.1" r="1.05"/><circle cx="459.5" cy="125.0" r="1.05"/><circle cx="522.5" cy="128.2" r="1.05"/><circle cx="484.5" cy="149.3" r="1.05"/><circle cx="335.3" cy="114.7" r="3.35"/><circle cx="336.3" cy="116.0" r="2.73"/><circle cx="353.6" cy="114.7" r="2.58"/><circle cx="367.3" cy="117.1" r="2.73"/><circle cx="369.2" cy="120.3" r="2.17"/><circle cx="370.0" cy="118.0" r="2.17"/><circle cx="378.6" cy="117.1" r="2.17"/><circle cx="384.4" cy="113.4" r="2.17"/><circle cx="390.5" cy="116.2" r="1.05"/><circle cx="395.0" cy="118.1" r="1.05"/><circle cx="404.4" cy="116.2" r="2.17"/><circle cx="389.0" cy="122.2" r="2.17"/><circle cx="388.0" cy="124.1" r="1.05"/><circle cx="391.8" cy="120.3" r="1.05"/><circle cx="336.3" cy="124.5" r="2.58"/><circle cx="343.8" cy="124.7" r="2.58"/><circle cx="346.6" cy="127.9" r="2.37"/><circle cx="354.2" cy="126.0" r="2.94"/><circle cx="357.9" cy="122.2" r="2.73"/><circle cx="333.5" cy="131.1" r="3.15"/><circle cx="337.2" cy="135.4" r="3.15"/><circle cx="353.2" cy="131.6" r="2.17"/><circle cx="362.6" cy="129.7" r="2.73"/><circle cx="364.5" cy="130.7" r="2.37"/><circle cx="381.4" cy="133.5" r="2.37"/><circle cx="385.6" cy="132.2" r="1.05"/><circle cx="360.4" cy="139.2" r="1.05"/><circle cx="389.3" cy="139.2" r="1.05"/><circle cx="326.5" cy="142.0" r="2.17"/><circle cx="337.2" cy="145.2" r="2.17"/><circle cx="326.5" cy="157.0" r="2.37"/><circle cx="335.9" cy="166.4" r="1.05"/><circle cx="376.7" cy="165.5" r="3.35"/><circle cx="275.6" cy="112.8" r="2.73"/><circle cx="280.3" cy="117.9" r="2.73"/><circle cx="293.5" cy="116.0" r="2.17"/><circle cx="321.7" cy="112.3" r="1.05"/><circle cx="302.9" cy="121.3" r="2.73"/><circle cx="306.7" cy="118.5" r="2.73"/><circle cx="310.4" cy="117.5" r="2.73"/><circle cx="312.3" cy="119.4" r="2.58"/><circle cx="304.8" cy="125.0" r="2.73"/><circle cx="307.6" cy="128.8" r="2.73"/><circle cx="309.5" cy="132.6" r="2.73"/><circle cx="305.7" cy="131.6" r="2.37"/><circle cx="318.9" cy="119.4" r="2.73"/><circle cx="319.8" cy="130.3" r="1.05"/><circle cx="302.3" cy="136.0" r="2.37"/><circle cx="288.8" cy="122.2" r="2.58"/><circle cx="289.7" cy="126.0" r="2.37"/><circle cx="283.2" cy="124.1" r="2.58"/><circle cx="271.9" cy="119.4" r="2.73"/><circle cx="274.7" cy="123.2" r="2.73"/><circle cx="271.9" cy="126.9" r="2.73"/><circle cx="273.8" cy="130.7" r="2.73"/><circle cx="270.9" cy="134.5" r="2.73"/><circle cx="273.8" cy="138.2" r="2.73"/><circle cx="271.9" cy="142.0" r="2.73"/><circle cx="270.9" cy="145.7" r="2.73"/><circle cx="283.2" cy="132.2" r="1.05"/><circle cx="292.6" cy="134.1" r="2.94"/><circle cx="294.1" cy="139.2" r="2.58"/><circle cx="309.9" cy="149.9" r="3.15"/><circle cx="302.9" cy="151.8" r="2.37"/><circle cx="308.2" cy="158.0" r="1.05"/><circle cx="279.0" cy="159.3" r="2.37"/><circle cx="273.4" cy="159.3" r="1.05"/><circle cx="269.0" cy="159.2" r="2.48"/><circle cx="271.9" cy="166.4" r="2.73"/><circle cx="279.4" cy="168.3" r="2.17"/><circle cx="234.4" cy="114.2" r="2.73"/><circle cx="238.6" cy="114.7" r="2.73"/><circle cx="231.6" cy="118.5" r="2.17"/><circle cx="235.3" cy="118.9" r="2.17"/><circle cx="240.5" cy="118.5" r="2.58"/><circle cx="229.2" cy="125.0" r="2.73"/><circle cx="233.5" cy="125.0" r="2.73"/><circle cx="228.3" cy="128.8" r="2.73"/><circle cx="232.5" cy="128.8" r="3.15"/><circle cx="236.7" cy="130.7" r="2.73"/><circle cx="240.0" cy="132.1" r="2.73"/><circle cx="229.2" cy="133.5" r="2.73"/><circle cx="233.0" cy="134.5" r="3.15"/><circle cx="228.3" cy="137.3" r="2.73"/><circle cx="233.5" cy="138.2" r="2.73"/><circle cx="237.7" cy="138.2" r="2.73"/><circle cx="240.5" cy="124.1" r="2.58"/><circle cx="243.8" cy="125.5" r="2.58"/><circle cx="244.3" cy="137.3" r="2.17"/><circle cx="250.6" cy="117.5" r="2.58"/><circle cx="249.2" cy="122.2" r="2.73"/><circle cx="253.5" cy="125.0" r="2.73"/><circle cx="259.1" cy="121.3" r="2.58"/><circle cx="262.4" cy="120.3" r="2.58"/><circle cx="268.0" cy="119.4" r="2.58"/><circle cx="246.9" cy="127.9" r="2.73"/><circle cx="252.5" cy="128.8" r="2.73"/><circle cx="255.3" cy="130.7" r="2.73"/><circle cx="261.0" cy="132.6" r="3.15"/><circle cx="263.8" cy="136.3" r="2.73"/><circle cx="259.1" cy="138.2" r="2.73"/><circle cx="253.5" cy="138.2" r="2.17"/><circle cx="247.8" cy="137.3" r="2.58"/><circle cx="268.0" cy="124.1" r="2.73"/><circle cx="269.5" cy="134.5" r="2.73"/><circle cx="266.6" cy="138.2" r="2.58"/><circle cx="228.5" cy="140.5" r="2.73"/><circle cx="232.5" cy="140.0" r="2.73"/><circle cx="236.5" cy="140.5" r="2.73"/><circle cx="240.5" cy="140.0" r="2.73"/><circle cx="244.5" cy="140.5" r="2.73"/><circle cx="228.0" cy="145.0" r="2.73"/><circle cx="232.0" cy="144.5" r="2.73"/><circle cx="236.0" cy="145.0" r="2.73"/><circle cx="240.0" cy="144.5" r="2.73"/><circle cx="244.0" cy="145.5" r="2.73"/><circle cx="228.5" cy="149.5" r="2.73"/><circle cx="232.5" cy="149.5" r="2.73"/><circle cx="236.5" cy="150.0" r="2.73"/><circle cx="240.5" cy="149.5" r="2.73"/><circle cx="244.5" cy="150.0" r="2.73"/><circle cx="236.5" cy="154.5" r="2.73"/><circle cx="240.5" cy="154.5" r="2.73"/><circle cx="244.5" cy="154.5" r="2.73"/><circle cx="229.0" cy="153.0" r="2.73"/><circle cx="237.0" cy="158.5" r="2.73"/><circle cx="241.0" cy="158.5" r="2.73"/><circle cx="245.0" cy="159.0" r="2.73"/><circle cx="228.0" cy="162.0" r="2.73"/><circle cx="232.0" cy="162.5" r="2.73"/><circle cx="236.0" cy="162.5" r="2.73"/><circle cx="240.0" cy="161.5" r="2.73"/><circle cx="228.0" cy="166.5" r="2.73"/><circle cx="232.0" cy="166.5" r="2.73"/><circle cx="236.0" cy="166.0" r="2.73"/><circle cx="247.8" cy="139.9" r="2.73"/><circle cx="253.5" cy="140.8" r="2.73"/><circle cx="259.1" cy="139.9" r="2.58"/><circle cx="259.1" cy="147.4" r="2.58"/><circle cx="267.6" cy="147.4" r="2.73"/><circle cx="258.6" cy="155.4" r="1.05"/><circle cx="248.8" cy="149.3" r="2.73"/><circle cx="249.7" cy="154.9" r="2.73"/><circle cx="250.6" cy="159.6" r="2.73"/><circle cx="245.9" cy="159.6" r="2.58"/><circle cx="254.4" cy="158.2" r="2.58"/><circle cx="264.7" cy="163.9" r="2.17"/><circle cx="246.9" cy="166.2" r="1.05"/><circle cx="228.5" cy="168.5" r="2.73"/><circle cx="228.5" cy="173.0" r="2.73"/><circle cx="228.5" cy="177.5" r="2.73"/><circle cx="228.5" cy="182.0" r="2.73"/><circle cx="228.5" cy="186.5" r="2.73"/><circle cx="232.5" cy="168.5" r="2.73"/><circle cx="232.5" cy="173.0" r="2.73"/><circle cx="232.5" cy="177.5" r="2.73"/><circle cx="232.5" cy="182.0" r="2.73"/><circle cx="232.5" cy="186.5" r="2.73"/><circle cx="232.5" cy="191.0" r="2.73"/><circle cx="232.5" cy="195.0" r="2.73"/><circle cx="236.5" cy="168.5" r="2.73"/><circle cx="236.5" cy="173.0" r="2.73"/><circle cx="236.5" cy="177.5" r="2.73"/><circle cx="236.5" cy="186.5" r="2.73"/><circle cx="236.5" cy="191.0" r="2.73"/><circle cx="236.5" cy="195.0" r="2.73"/><circle cx="231.0" cy="191.0" r="2.73"/><circle cx="231.0" cy="195.5" r="2.73"/><circle cx="226.5" cy="178.0" r="2.17"/><circle cx="241.5" cy="168.8" r="2.73"/><circle cx="245.2" cy="168.5" r="2.58"/><circle cx="240.5" cy="175.4" r="2.73"/><circle cx="244.3" cy="173.5" r="2.73"/><circle cx="241.5" cy="182.9" r="2.73"/><circle cx="243.8" cy="187.6" r="2.73"/><circle cx="245.0" cy="192.5" r="2.73"/><circle cx="239.5" cy="190.0" r="2.73"/><circle cx="249.2" cy="170.7" r="2.58"/><circle cx="248.8" cy="173.5" r="2.27"/><circle cx="253.0" cy="174.5" r="1.05"/><circle cx="256.8" cy="170.0" r="1.05"/><circle cx="262.9" cy="176.2" r="2.06"/><circle cx="270.4" cy="174.9" r="2.06"/><circle cx="259.6" cy="181.0" r="1.05"/><circle cx="248.8" cy="192.3" r="3.25"/><circle cx="260.5" cy="190.9" r="3.25"/><circle cx="277.0" cy="173.1" r="1.05"/><circle cx="280.3" cy="180.2" r="2.37"/><circle cx="291.1" cy="183.6" r="2.37"/><circle cx="320.4" cy="184.0" r="1.05"/><circle cx="289.7" cy="197.2" r="1.05"/><circle cx="280.9" cy="222.9" r="1.05"/><circle cx="301.6" cy="224.8" r="1.05"/><circle cx="325.7" cy="226.3" r="1.05"/><circle cx="356.0" cy="181.7" r="2.17"/><circle cx="340.4" cy="211.6" r="1.05"/><circle cx="420.3" cy="245.6" r="1.05"/><circle cx="228.3" cy="198.7" r="2.58"/><circle cx="233.5" cy="198.2" r="2.58"/><circle cx="236.7" cy="200.6" r="2.27"/><circle cx="241.9" cy="197.3" r="2.27"/><circle cx="244.3" cy="201.1" r="2.58"/><circle cx="242.4" cy="204.3" r="2.27"/><circle cx="226.4" cy="203.4" r="1.05"/><circle cx="231.1" cy="205.8" r="2.01"/><circle cx="226.4" cy="207.6" r="1.05"/><circle cx="235.3" cy="208.1" r="1.05"/><circle cx="240.0" cy="208.6" r="1.05"/><circle cx="226.9" cy="210.9" r="1.05"/><circle cx="234.4" cy="211.9" r="2.01"/><circle cx="237.2" cy="213.3" r="2.27"/><circle cx="230.2" cy="217.0" r="2.58"/><circle cx="227.8" cy="220.3" r="1.05"/><circle cx="235.8" cy="219.4" r="2.01"/><circle cx="238.6" cy="221.3" r="2.01"/><circle cx="243.8" cy="217.0" r="2.58"/><circle cx="240.5" cy="223.2" r="2.01"/><circle cx="253.2" cy="202.9" r="2.01"/><circle cx="263.3" cy="201.1" r="1.05"/><circle cx="250.8" cy="208.1" r="1.05"/><circle cx="257.9" cy="212.1" r="2.01"/><circle cx="252.7" cy="214.2" r="1.05"/><circle cx="266.3" cy="217.5" r="2.73"/><circle cx="253.6" cy="219.4" r="1.05"/><circle cx="239.1" cy="226.2" r="2.27"/><circle cx="239.6" cy="229.1" r="2.27"/><circle cx="227.3" cy="226.2" r="2.58"/><circle cx="231.1" cy="226.2" r="2.58"/><circle cx="226.4" cy="229.5" r="2.58"/><circle cx="230.2" cy="229.5" r="2.58"/><circle cx="233.0" cy="230.9" r="2.27"/><circle cx="225.9" cy="232.3" r="2.58"/><circle cx="230.2" cy="232.8" r="2.58"/><circle cx="227.3" cy="235.2" r="2.01"/><circle cx="231.6" cy="234.2" r="2.01"/><circle cx="226.9" cy="238.5" r="1.55"/><circle cx="226.4" cy="240.3" r="1.55"/><circle cx="241.9" cy="233.3" r="1.05"/><circle cx="236.3" cy="244.4" r="1.05"/><circle cx="226.4" cy="247.9" r="1.05"/><circle cx="226.7" cy="259.9" r="1.05"/><circle cx="233.9" cy="260.2" r="1.05"/><circle cx="226.7" cy="263.8" r="1.05"/><circle cx="226.7" cy="271.2" r="1.05"/><circle cx="249.5" cy="231.9" r="1.05"/><circle cx="271.4" cy="239.0" r="1.05"/><circle cx="263.5" cy="133.5" r="3.35"/><circle cx="268.5" cy="128.0" r="2.94"/><circle cx="262.0" cy="126.0" r="2.58"/><circle cx="257.0" cy="125.0" r="2.43"/><circle cx="265.0" cy="121.0" r="2.58"/><circle cx="230.5" cy="170.7" r="2.73"/><circle cx="230.5" cy="175.2" r="2.73"/><circle cx="230.5" cy="179.7" r="2.73"/><circle cx="230.5" cy="184.2" r="2.73"/><circle cx="234.5" cy="170.7" r="2.73"/><circle cx="234.5" cy="175.2" r="2.73"/><circle cx="234.5" cy="188.7" r="2.73"/><circle cx="234.5" cy="193.0" r="2.73"/><circle cx="230.5" cy="188.7" r="2.73"/><circle cx="239.0" cy="171.0" r="2.73"/><circle cx="243.0" cy="171.0" r="2.58"/><circle cx="239.0" cy="179.0" r="2.43"/><circle cx="230.3" cy="142.5" r="2.73"/><circle cx="234.3" cy="142.5" r="2.73"/><circle cx="238.3" cy="142.5" r="2.73"/><circle cx="242.3" cy="142.5" r="2.73"/><circle cx="230.3" cy="147.0" r="2.73"/><circle cx="234.3" cy="147.0" r="2.73"/><circle cx="238.3" cy="147.0" r="2.73"/><circle cx="242.3" cy="147.0" r="2.73"/><circle cx="238.5" cy="152.0" r="2.73"/><circle cx="242.5" cy="152.0" r="2.73"/><circle cx="239.0" cy="156.5" r="2.73"/><circle cx="243.0" cy="156.5" r="2.73"/><circle cx="230.0" cy="164.3" r="2.73"/><circle cx="234.0" cy="164.3" r="2.73"/><circle cx="238.0" cy="164.0" r="2.73"/><circle cx="230.5" cy="127.0" r="2.73"/><circle cx="230.5" cy="131.5" r="2.73"/><circle cx="230.5" cy="136.0" r="2.73"/><circle cx="234.5" cy="131.5" r="2.73"/><circle cx="238.5" cy="135.5" r="2.73"/><circle cx="251.0" cy="143.5" r="2.73"/><circle cx="255.0" cy="146.0" r="2.73"/><circle cx="250.5" cy="147.5" r="2.58"/><circle cx="253.5" cy="151.0" r="2.58"/><circle cx="258.5" cy="149.0" r="2.58"/><circle cx="277.0" cy="121.0" r="2.73"/><circle cx="281.0" cy="123.0" r="2.73"/><circle cx="285.0" cy="121.0" r="2.58"/><circle cx="278.0" cy="127.0" r="2.58"/><circle cx="283.0" cy="128.0" r="2.43"/><circle cx="276.0" cy="116.0" r="2.58"/><circle cx="288.0" cy="118.0" r="2.58"/><circle cx="279.0" cy="113.0" r="2.43"/><circle cx="301.0" cy="115.0" r="2.73"/><circle cx="305.0" cy="114.0" r="2.58"/><circle cx="312.0" cy="113.5" r="2.73"/><circle cx="303.0" cy="124.0" r="2.73"/><circle cx="307.0" cy="122.0" r="2.58"/><circle cx="311.0" cy="126.0" r="2.58"/><circle cx="309.0" cy="136.0" r="2.43"/><circle cx="313.0" cy="131.0" r="2.43"/><circle cx="318.0" cy="116.0" r="2.73"/><circle cx="322.0" cy="118.0" r="2.58"/>
</g>
<line x1="217" y1="117.6" x2="684" y2="117.6" stroke="#bdbdbd" stroke-width="1.05" stroke-dasharray="2.2,2"/>
<line x1="217" y1="0" x2="217" y2="297" stroke="#d2d2d2" stroke-width="1.6"/><line x1="216.2" y1="297" x2="685" y2="297" stroke="#d2d2d2" stroke-width="1.8"/><line x1="684.6" y1="0" x2="684.6" y2="297" stroke="#c4c4c4" stroke-width="1.2"/><line x1="217" y1="0.4" x2="685" y2="0.4" stroke="#959595" stroke-width="1.3"/><line x1="226.5" y1="297.8" x2="226.5" y2="299.3" stroke="#333" stroke-width="0.8"/><text x="226.5" y="304.9" class="tk" text-anchor="middle">0</text><line x1="275.9" y1="297.8" x2="275.9" y2="299.3" stroke="#333" stroke-width="0.8"/><text x="275.9" y="304.9" class="tk" text-anchor="middle">5</text><line x1="325.3" y1="297.8" x2="325.3" y2="299.3" stroke="#333" stroke-width="0.8"/><text x="325.3" y="304.9" class="tk" text-anchor="middle">10</text><line x1="374.7" y1="297.8" x2="374.7" y2="299.3" stroke="#333" stroke-width="0.8"/><text x="374.7" y="304.9" class="tk" text-anchor="middle">15</text><line x1="424.1" y1="297.8" x2="424.1" y2="299.3" stroke="#333" stroke-width="0.8"/><text x="424.1" y="304.9" class="tk" text-anchor="middle">20</text><line x1="473.5" y1="297.8" x2="473.5" y2="299.3" stroke="#333" stroke-width="0.8"/><text x="473.5" y="304.9" class="tk" text-anchor="middle">25</text><line x1="522.9" y1="297.8" x2="522.9" y2="299.3" stroke="#333" stroke-width="0.8"/><text x="522.9" y="304.9" class="tk" text-anchor="middle">30</text><line x1="572.3" y1="297.8" x2="572.3" y2="299.3" stroke="#333" stroke-width="0.8"/><text x="572.3" y="304.9" class="tk" text-anchor="middle">35</text><line x1="621.7" y1="297.8" x2="621.7" y2="299.3" stroke="#333" stroke-width="0.8"/><text x="621.7" y="304.9" class="tk" text-anchor="middle">40</text><line x1="671.1" y1="297.8" x2="671.1" y2="299.3" stroke="#333" stroke-width="0.8"/><text x="671.1" y="304.9" class="tk" text-anchor="middle">45</text><line x1="214.8" y1="229.5" x2="216.6" y2="229.5" stroke="#333" stroke-width="0.8"/><text x="212.9" y="231.7" class="tk" text-anchor="end">10</text><line x1="214.8" y1="175.5" x2="216.6" y2="175.5" stroke="#333" stroke-width="0.8"/><text x="212.9" y="177.7" class="tk" text-anchor="end">100</text><line x1="214.8" y1="121.5" x2="216.6" y2="121.5" stroke="#333" stroke-width="0.8"/><text x="212.9" y="123.7" class="tk" text-anchor="end">1,000</text><line x1="214.8" y1="67.5" x2="216.6" y2="67.5" stroke="#333" stroke-width="0.8"/><text x="212.9" y="69.7" class="tk" text-anchor="end">10,000</text><line x1="214.8" y1="13.5" x2="216.6" y2="13.5" stroke="#333" stroke-width="0.8"/><text x="212.9" y="15.7" class="tk" text-anchor="end">100,000</text>
<text x="226.5" y="20.3" class="pl">b</text>
<line x1="565.2" y1="201.2" x2="573" y2="201.2" stroke="#a5a5a5" stroke-width="0.9" stroke-dasharray="2.2,3"/><text x="579.6" y="202.9" class="lg">Median size of population unit (km<tspan class="sup" dy="-2">2</tspan><tspan dy="2">)</tspan></text><text x="563.9" y="221.3" class="lg2">Mean population size</text><text x="563.9" y="230.1" class="lg2">(nr. of people in admin 1)</text><circle cx="569.9" cy="239.5" r="1.10" fill="#5f7e87" fill-opacity="0.85" stroke="#5f7e87" stroke-opacity="0.85" stroke-width="0.5"/><text x="579.6" y="241.6" class="lg">0 - 77,885</text><circle cx="569.9" cy="251.6" r="2.20" fill="#5f7e87" fill-opacity="0.85" stroke="#5f7e87" stroke-opacity="0.85" stroke-width="0.5"/><text x="579.6" y="253.7" class="lg">77,885 - 179,496</text><circle cx="569.9" cy="263.9" r="2.85" fill="#5f7e87" fill-opacity="0.85" stroke="#5f7e87" stroke-opacity="0.85" stroke-width="0.5"/><text x="579.6" y="266.0" class="lg">179,496 - 307,708</text><circle cx="569.9" cy="275.5" r="3.60" fill="#5f7e87" fill-opacity="0.85" stroke="#5f7e87" stroke-opacity="0.85" stroke-width="0.5"/><text x="579.6" y="277.6" class="lg">307,708 - 7,056,190</text>
<text transform="translate(183.4,275.7) rotate(-90)" class="ttl">Size of smallest population unit in publicly available sources (km<tspan font-size="6" dy="-3.2">2</tspan><tspan dy="3.2">)</tspan></text>
<text x="401.2" y="316.8" class="ttl">Average coverage difference (%)</text>
</svg>
</body></html>
